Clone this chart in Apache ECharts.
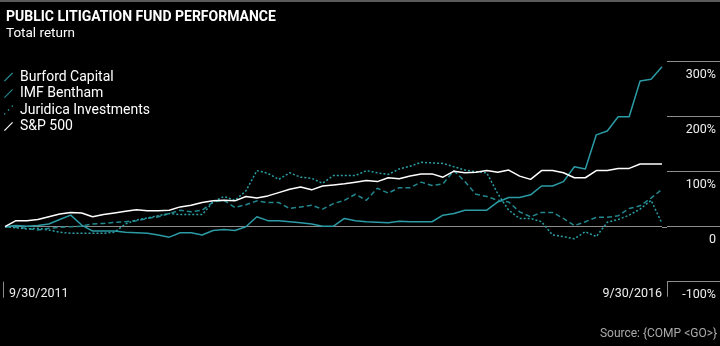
<!DOCTYPE html>
<html><head><meta charset="utf-8">
<script src="https://cdn.jsdelivr.net/npm/echarts@6/dist/echarts.min.js"></script>
<style>html,body{margin:0;padding:0;background:#000;}#c{width:720px;height:346px;}</style>
</head><body><div id="c"></div>
<script>
const months = ['2011-09','2011-10','2011-11','2011-12',
'2012-01','2012-02','2012-03','2012-04','2012-05','2012-06','2012-07','2012-08','2012-09','2012-10','2012-11','2012-12',
'2013-01','2013-02','2013-03','2013-04','2013-05','2013-06','2013-07','2013-08','2013-09','2013-10','2013-11','2013-12',
'2014-01','2014-02','2014-03','2014-04','2014-05','2014-06','2014-07','2014-08','2014-09','2014-10','2014-11','2014-12',
'2015-01','2015-02','2015-03','2015-04','2015-05','2015-06','2015-07','2015-08','2015-09','2015-10','2015-11','2015-12',
'2016-01','2016-02','2016-03','2016-04','2016-05','2016-06','2016-07','2016-08','2016-09'];
const burford = [0,2,1,2,5,13,21,3,-8,-8, -8,-10,-11,-12,-15,-19,-11,-11,-15,-7, -5,-7,0,18,11,11,9,7,5,1, 1,15,11,9,8,7,10,9,9,9, 21,24,30,30,30,45,53,53,58,74, 74,82,109,105,167,174,200,200,265,268, 291];
const imfBentham = [0,-1,-3,-6,-3,-1,0,1,5,6, 8,9,11,15,18,24,30,27,30,45, 48,35,40,47,44,44,33,36,39,32, 42,48,59,48,70,61,71,71,81,75, 78,102,82,59,55,48,45,27,18,26, 26,15,2,9,17,17,20,33,38,52, 68];
const juridica = [0,-2,-4,-3,-6,-10,-12,-12,-12,-12, -10,5,12,16,20,24,22,22,22,45, 55,48,65,102,97,86,98,90,88,79, 93,93,93,102,98,95,105,110,117,116, 115,109,103,100,98,60,30,15,15,9, -15,-18,-22,-9,-18,8,13,21,32,48, 6];
const sp500 = [0,11,11,13,18,23,26,25,18,22, 25,28,31,29,29,30,36,39,44,47, 48,47,55,52,56,62,68,72,67,74, 76,78,81,84,82,89,87,92,96,96, 90,101,98,99,102,99,103,92,86,102, 102,98,89,89,102,102,106,106,114,114, 114];
const seriesNames = ['Burford Capital','IMF Bentham','Juridica Investments','S&P 500'];
const xTickLabels = ['9/30/2011','9/30/2016'];
const yTicks = [-100,0,100,200,300];
const yTickLabels = ['-100%','0','100%','200%','300%'];

const FONT = 'Roboto, "Noto Sans", sans-serif';
const chart = echarts.init(document.getElementById('c'), null, {renderer:'canvas'});
const lastIdx = months.length - 1;
const solidIcon = 'path://M0,9.1L9.1,0L10,0.9L0.9,10Z';
const dotIcon = 'path://M0,8.5h1.5v1.5h-1.5zM4.25,4.25h1.5v1.5h-1.5zM8.5,0h1.5v1.5h-1.5z';
const colors = ['#2b9ba5','#23878f','#2aa0a6','#ffffff'];
const gray = '#8c8c8c';

chart.setOption({
  backgroundColor:'#000',
  animation:false,
  textStyle:{fontFamily:FONT},
  title:{
    text:'PUBLIC LITIGATION FUND PERFORMANCE', subtext:'Total return',
    left:1, top:5, itemGap:3,
    textStyle:{color:'#fff',fontSize:14,fontWeight:'bold',fontFamily:FONT},
    subtextStyle:{color:'#fff',fontSize:13.5,fontFamily:FONT}
  },
  legend:{
    orient:'vertical', left:4, top:70, padding:0, itemWidth:9, itemHeight:9, itemGap:2.5,
    itemStyle:{borderWidth:0},
    textStyle:{color:'#fff',fontSize:14,fontFamily:FONT, padding:[0,0,0,2]},
    data: seriesNames.map((n,i)=>({name:n, icon: i===2?dotIcon:solidIcon}))
  },
  grid:{left:5,right:58,top:61.7,height:220},
  xAxis:{
    type:'category', data:months, boundaryGap:false,
    axisLine:{show:false}, splitLine:{show:false}, axisTick:{show:false},
    axisLabel:{interval:(i)=>i===0||i===lastIdx,
      formatter:(v,i)=> i===0 ? '{l|'+xTickLabels[0]+'}' : xTickLabels[1],
      rich:{l:{padding:[0,0,0,4], color:'#eee', fontSize:12.5, fontFamily:FONT}},
      color:'#eee', fontSize:12.5, margin:6, alignMinLabel:'left', alignMaxLabel:'right', fontFamily:FONT}
  },
  yAxis:{
    type:'value', position:'right', offset:5, min:-100, max:300, interval:100,
    axisLine:{show:false},
    axisTick:{show:true, inside:false, length:53, lineStyle:{color:gray}},
    splitLine:{show:true, lineStyle:{color:['transparent',gray,'transparent','transparent','transparent']}},
    axisLabel:{formatter:v=>yTickLabels[yTicks.indexOf(v)], color:'#eee', fontSize:12.5, align:'right',
      verticalAlign:'top', margin:49, padding:[7,0,0,0], fontFamily:FONT}
  },
  series:[
    {name:seriesNames[0], type:'line', data:burford, showSymbol:false, color:colors[0], lineStyle:{width:1.5,color:colors[0]}},
    {name:seriesNames[1], type:'line', data:imfBentham, showSymbol:false, color:colors[1], lineStyle:{width:1.5,color:colors[1],type:[5,3]}},
    {name:seriesNames[2], type:'line', data:juridica, showSymbol:false, color:colors[2], lineStyle:{width:1.5,color:colors[2],type:[2,2]}},
    {name:seriesNames[3], type:'line', data:sp500, showSymbol:false, color:colors[3], lineStyle:{width:1.5,color:colors[3]}}
  ]
});

// decorations: top rule, zero-line bridge to the tick column, -100% box edge, start tick, source
const y0 = chart.convertToPixel({yAxisIndex:0}, 0);
const yMin = chart.convertToPixel({yAxisIndex:0}, -100);
const xStart = chart.convertToPixel({xAxisIndex:0}, 0);
const xEnd = chart.convertToPixel({xAxisIndex:0}, lastIdx);
chart.setOption({
  graphic:[
    {type:'rect', shape:{x:0,y:0,width:720,height:2}, style:{fill:'#5a5a5a'}},
    {type:'line', shape:{x1:xEnd,y1:Math.round(y0)+0.5,x2:xEnd+5,y2:Math.round(y0)+0.5}, style:{stroke:gray, lineWidth:1}},
    {type:'line', shape:{x1:xEnd+5.5,y1:yMin,x2:xEnd+5.5,y2:yMin+15}, style:{stroke:gray, lineWidth:1}},
    {type:'line', shape:{x1:xStart-1.5,y1:yMin,x2:xStart-1.5,y2:yMin+16}, style:{stroke:gray, lineWidth:1}},
    {type:'text', right:3, top:328, style:{text:'Source: {COMP <GO>}', fill:'#aaa', font:'12px Roboto'}}
  ]
});
</script></body></html>
